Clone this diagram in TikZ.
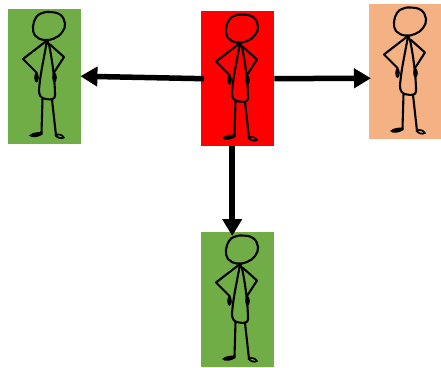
\documentclass[tikz,border=0pt]{standalone}
\usetikzlibrary{arrows.meta}
\definecolor{grn}{HTML}{70AD47}
\definecolor{org}{HTML}{F4B183}
\tikzset{
  card/.style={draw=none,minimum width=73pt,minimum height=135pt,inner sep=0pt,anchor=north west},
  ink/.style={draw=black,line width=2.1pt,line cap=round,line join=round,fill=none},
  link/.style={draw=black,line width=5.5pt,-{Triangle[length=17pt,width=19pt]}},
  person/.pic={
    \begin{scope}[x=1pt,y=-1pt]
    % head
    \draw[ink] plot[smooth cycle,tension=0.7] coordinates {(41,3.5) (52,6) (57,15) (54,24) (46,30) (36,31.5) (27,27) (25,18) (28,9) (33,5)};
    % arms
    \draw[ink] (39,32) -- (15,50.5) -- (28.5,64) -- (29,70);
    \draw[ink] (42,36) -- (56,48.5) -- (46,64) -- (46,70);
    \fill (28.5,69) ellipse (2.3pt and 5pt);
    \fill (46.5,69) ellipse (2.3pt and 5pt);
    % torso
    \draw[ink] (39,32) .. controls (36,50) and (32,66) .. (31,82)
      .. controls (31,87) and (33,90) .. (38,90.5)
      .. controls (43,91.5) and (47,91) .. (47,87)
      .. controls (47,72) and (44,50) .. (41,36) -- (39,32);
    % legs and feet
    \draw[ink] (34.5,90) -- (33.5,124);
    \draw[ink] (44,91) -- (48,127);
    \fill (21,127) .. controls (25,123.5) and (30,123.5) .. (34.5,123.5) -- (34.5,126)
      .. controls (30,129) and (24,130) .. (21,127) -- cycle;
    \draw[ink,line width=1.7pt] (47.5,127) .. controls (50,125) and (54,126) .. (56,129)
      .. controls (53,130.5) and (50,129.5) .. (47.5,127);
    \end{scope}
  }
}
\begin{document}
\begin{tikzpicture}[x=1pt,y=-1pt]
\useasboundingbox (0,0) rectangle (441,367);
\node[card,fill=red] (boss) at (201,11) {};
\node[card,fill=grn] (left) at (8,8.5) {};
\node[card,fill=org,minimum width=72pt] (right) at (369,4) {};
\node[card,fill=grn] (down) at (201,232) {};
\pic at (boss.north west) {person};
\pic at (left.north west) {person};
\pic at (right.north west) {person};
\pic at (down.north west) {person};
\coordinate (bossW) at ([xshift=3pt]boss.west);
\coordinate (leftE) at ([xshift=-1pt]left.east);
\coordinate (bossS) at ([xshift=-5.5pt]boss.south);
\coordinate (downN) at ([xshift=-5.5pt,yshift=-4pt]down.north);
\coordinate (rightW) at ([xshift=2pt,yshift=-6.5pt]right.west);
\draw[link] (bossW) -- (leftE);
\draw[link] (boss.east) -- (rightW);
\draw[link] (bossS) -- (downN);
\end{tikzpicture}
\end{document}
